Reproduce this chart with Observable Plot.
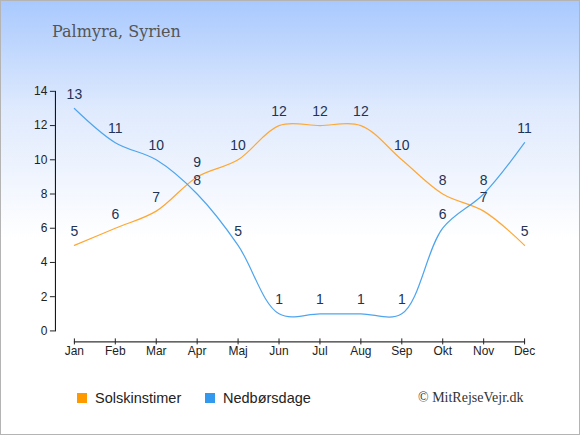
<!DOCTYPE html>
<html>
<head>
<meta charset="utf-8">
<script src="https://cdn.jsdelivr.net/npm/d3@7"></script>
<script src="https://cdn.jsdelivr.net/npm/@observablehq/plot@0.6"></script>
<style>
  html, body { margin: 0; padding: 0; }
  #wrap {
    position: relative; width: 580px; height: 435px; box-sizing: border-box;
    border: 1px solid #b4b4b4;
    background: linear-gradient(to bottom, #a9c9fe 0%, #dfeafd 25%, #ffffff 55%, #ffffff 100%);
    overflow: hidden;
  }
  #title { position: absolute; left: 51px; top: 21px; font-family: "DejaVu Serif", serif; font-size: 16px; color: #555; }
  #chart { position: absolute; left: -1px; top: -1px; }
  .leg { position: absolute; top: 389px; font-family: "Liberation Sans", Arial, sans-serif; font-size: 14.5px; color: #222; display: flex; align-items: center; }
  .sw { width: 10px; height: 10px; margin-right: 8px; }
  #copy { position: absolute; left: 417px; top: 389px; font-family: "Liberation Serif", serif; font-size: 14px; color: #333; }
</style>
</head>
<body>
<div id="wrap">
  <div id="title">Palmyra, Syrien</div>
  <div id="chart"></div>
  <div class="leg" style="left:76px"><div class="sw" style="background:#ff9900"></div>Solskinstimer</div>
  <div class="leg" style="left:204px"><div class="sw" style="background:#3399ee"></div>Nedbørsdage</div>
  <div id="copy">© MitRejseVejr.dk</div>
</div>
<script>
const months = ["Jan","Feb","Mar","Apr","Maj","Jun","Jul","Aug","Sep","Okt","Nov","Dec"];
const sun = [5,6,7,9,10,12,12,12,10,8,7,5];
const rain = [13,11,10,8,5,1,1,1,1,6,8,11];
const yTicks = [0,2,4,6,8,10,12,14];

const sunData = months.map((m,i)=>({m, v: sun[i]}));
const rainData = months.map((m,i)=>({m, v: rain[i]}));

const plot = Plot.plot({
  width: 580, height: 372,
  marginTop: 91, marginBottom: 30, marginLeft: 55, marginRight: 36,
  style: { background: "transparent", fontFamily: "Liberation Sans, Arial, sans-serif", fontSize: "12px", color: "#222" },
  x: { type: "point", domain: months, padding: 0, insetLeft: 19, insetRight: 19, label: null },
  y: { domain: [0, 14], insetBottom: 11, label: null },
  marks: [
    Plot.frame({anchor: "left", insetBottom: 11, stroke: "#000"}),
    Plot.frame({anchor: "bottom", insetLeft: 19, insetRight: 19, stroke: "#000"}),
    Plot.axisY({ticks: yTicks, tickSize: 5, tickPadding: 3, label: null, fontSize: 12}),
    Plot.axisX({tickSize: 6, dy: -3, tickPadding: 2, label: null, fontSize: 12}),
    Plot.line(sunData, {x: "m", y: "v", stroke: "#ffa733", strokeWidth: 1.2, curve: "catmull-rom"}),
    Plot.line(rainData, {x: "m", y: "v", stroke: "#4ea5ee", strokeWidth: 1.2, curve: "catmull-rom"}),
    Plot.text(sunData, {x: "m", y: "v", text: d => String(d.v), dy: -14, fill: "#223355", fontSize: 14}),
    Plot.text(rainData, {x: "m", y: "v", text: d => String(d.v), dy: -14, fill: "#223355", fontSize: 14})
  ]
});
document.getElementById("chart").appendChild(plot);
</script>
</body>
</html>
